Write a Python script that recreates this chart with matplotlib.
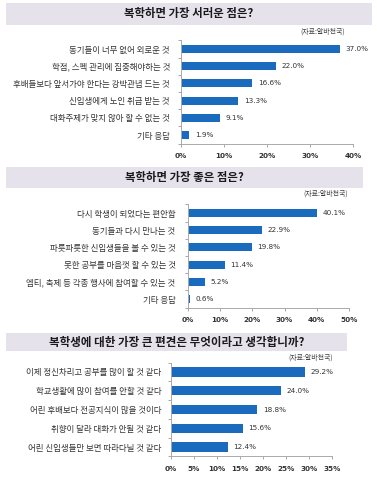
import matplotlib.pyplot as plt
from matplotlib.patches import Rectangle
import numpy as np

plt.rcParams['font.family'] = ['Noto Sans CJK KR', 'DejaVu Sans']

W, H = 377, 480
BAR_COLOR = "#1a6bbd"
BAND_COLOR = "#e5e2ec"
SOURCE = "(자료:알바천국)"

# panel 1
title1 = "복학하면 가장 서러운 점은?"
cats1 = ["동기들이 너무 없어 외로운 것", "학점, 스펙 관리에 집중해야하는 것",
         "후배들보다 앞서가야 한다는 강박관념 드는 것", "신입생에게 노인 취급 받는 것",
         "대화주제가 맞지 않아 할 수 없는 것", "기타 응답"]
vals1 = [37.0, 22.0, 16.6, 13.3, 9.1, 1.9]
ticks1 = [0, 10, 20, 30, 40]

# panel 2
title2 = "복학하면 가장 좋은 점은?"
cats2 = ["다시 학생이 되었다는 편안함", "동기들과 다시 만나는 것",
         "파릇파릇한 신입생들을 볼 수 있는 것", "못한 공부를 마음껏 할 수 있는 것",
         "엠티, 축제 등 각종 행사에 참여할 수 있는 것", "기타 응답"]
vals2 = [40.1, 22.9, 19.8, 11.4, 5.2, 0.6]
ticks2 = [0, 10, 20, 30, 40, 50]

# panel 3
title3 = "복학생에 대한 가장 큰 편견은 무엇이라고 생각합니까?"
cats3 = ["이제 정신차리고 공부를 많이 할 것 같다", "학교생활에 많이 참여를 안할 것 같다",
         "어린 후배보다 전공지식이 많을 것이다", "취향이 달라 대화가 안될 것 같다",
         "어린 신입생들만 보면 따라다닐 것 같다"]
vals3 = [29.2, 24.0, 18.8, 15.6, 12.4]
ticks3 = [0, 5, 10, 15, 20, 25, 30, 35]

fig = plt.figure(figsize=(W / 100, H / 100), dpi=100)
fig.patch.set_facecolor("white")


def px_axes(x0, y0, x1, y1):
    return fig.add_axes([x0 / W, 1 - y1 / H, (x1 - x0) / W, (y1 - y0) / H])


def band(x0, y0, x1, y1, text, size):
    fig.patches.append(Rectangle((x0 / W, 1 - y1 / H), (x1 - x0) / W, (y1 - y0) / H,
                                 transform=fig.transFigure, facecolor=BAND_COLOR,
                                 edgecolor="none", zorder=0))
    fig.text((x0 + x1) / 2 / W, 1 - (y0 + y1) / 2 / H, text, ha="center", va="center",
             fontsize=size, fontweight="bold", color="#1a1a1a")


def panel(box, cats, vals, ticks, bar_h, label_pad, source_xy):
    ax = px_axes(*box)
    y = np.arange(len(cats))
    ax.barh(y, vals, height=bar_h, color=BAR_COLOR)
    ax.set_ylim(len(cats) - 0.5, -0.5)
    ax.set_xlim(0, ticks[-1])
    ax.set_xticks(ticks)
    ax.set_xticklabels([f"{t}%" for t in ticks], fontsize=5.2, color="#333333",
                       fontweight="bold", family="DejaVu Sans")
    ax.set_yticks(y)
    ax.set_yticklabels(cats, fontsize=6.1, color="#333333")
    ax.tick_params(axis="y", length=0, pad=label_pad)
    ax.tick_params(axis="x", length=2, width=0.6, color="#999999", pad=5)
    ax.set_yticks(np.arange(len(cats) + 1) - 0.5, minor=True)
    ax.tick_params(axis="y", which="minor", length=2, width=0.6, color="#999999")
    for s in ["top", "right"]:
        ax.spines[s].set_visible(False)
    for s in ["left", "bottom"]:
        ax.spines[s].set_color("#aaaaaa")
        ax.spines[s].set_linewidth(0.7)
    ax.set_facecolor("none")
    for yi, v in zip(y, vals):
        ax.annotate(f"{v:.1f}%", (v, yi), xytext=(4, 0), textcoords="offset points",
                    ha="left", va="center", fontsize=5.2, color="#333333",
                    family="DejaVu Sans")
    fig.text(source_xy[0] / W, 1 - source_xy[1] / H, SOURCE, ha="right", va="center",
             fontsize=5, color="#444444")
    return ax


band(6, 3, 372, 25, title1, 8.2)
panel((181, 40.4, 353, 143.6), cats1, vals1, ticks1, 0.47, 8, (345, 32))

band(6, 167, 363, 188, title2, 8.2)
panel((188, 204.4, 349, 307.6), cats2, vals2, ticks2, 0.47, 9, (348, 194))

band(6, 333, 347, 351, title3, 8.3)
panel((171, 362.6, 332, 456.4), cats3, vals3, ticks3, 0.5, 7, (333, 358))

fig.savefig("out.png", dpi=100)
